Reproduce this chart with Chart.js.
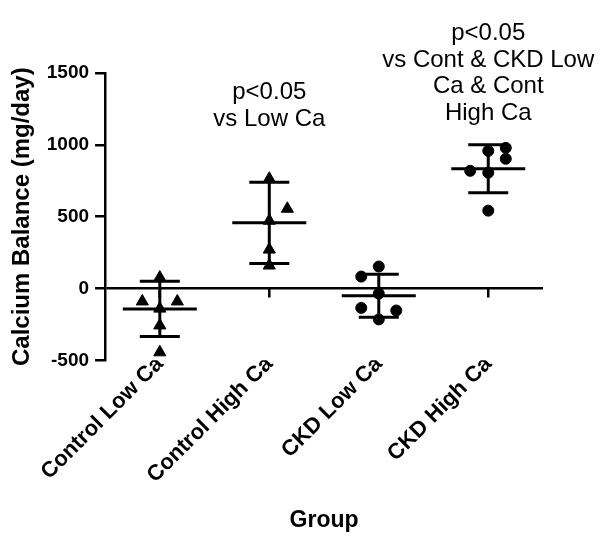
<!DOCTYPE html>
<html lang="en">
<head>
    <meta charset="UTF-8">
    <title>Calcium Balance</title>
    <style>
        body { margin: 0; background: #fff; }
        #wrap { width: 600px; height: 548px; }
    </style>
</head>
<body>
<div id="wrap">
    <canvas id="myChart"></canvas>
</div>

<script src="https://cdn.jsdelivr.net/npm/chart.js"></script>

<script>
    // groups on the x axis
    const categories = ['Control Low Ca', 'Control High Ca', 'CKD Low Ca', 'CKD High Ca'];

    // individual animals (mg/day) and their small sideways jitter (in group units)
    const controlLowCa = [76, -90, -90, -140, -257, -444];
    const controlLowJitter = [0, -0.16, 0.16, 0, 0, 0];
    const controlHighCa = [764, 555, 472, 271, 160];
    const controlHighJitter = [0, 0.165, 0, 0, 0];
    const ckdLowCa = [153, 83, -35, -135, -153, -215];
    const ckdLowJitter = [0, -0.16, 0, -0.16, 0.16, 0];
    const ckdHighCa = [958, 979, 903, 819, 806, 542];
    const ckdHighJitter = [0, 0.16, 0.16, -0.165, 0, 0];

    // mean and SD per group, as drawn
    const means = [-142, 457, -50, 833];
    const sds = [192, 283, 150, 167];

    // y axis
    const yMin = -500;
    const yMax = 1500;
    const yStep = 500;

    // significance notes
    const noteGroups = [1, 3];
    const noteValues = [1180, 1222];
    const noteLines = [
        ['p<0.05', 'vs Low Ca'],
        ['p<0.05', 'vs Cont & CKD Low', 'Ca & Cont', 'High Ca']
    ];

    const FONT = '"Liberation Sans", Arial, Helvetica, sans-serif';

    function points(values, jitter, group) {
        return values.map(function (v, i) {
            return {x: group + jitter[i], y: v};
        });
    }

    // mean line + SD whiskers
    const errorBars = {
        id: 'errorBars',
        afterDatasetsDraw(chart) {
            const ctx = chart.ctx;
            const x = chart.scales.x;
            const y = chart.scales.y;
            ctx.save();
            ctx.strokeStyle = '#000';
            ctx.lineWidth = 3;
            ctx.lineCap = 'butt';
            means.forEach(function (m, i) {
                const px = x.getPixelForValue(i);
                const pm = y.getPixelForValue(m);
                const pt = y.getPixelForValue(m + sds[i]);
                const pb = y.getPixelForValue(m - sds[i]);
                ctx.beginPath();
                ctx.moveTo(px, pt);
                ctx.lineTo(px, pb);
                ctx.moveTo(px - 37, pm);
                ctx.lineTo(px + 37, pm);
                ctx.moveTo(px - 20, pt);
                ctx.lineTo(px + 20, pt);
                ctx.moveTo(px - 20, pb);
                ctx.lineTo(px + 20, pb);
                ctx.stroke();
            });
            ctx.restore();
        }
    };

    // ticks under the zero line + notes above groups
    const extras = {
        id: 'extras',
        afterDraw(chart) {
            const ctx = chart.ctx;
            const x = chart.scales.x;
            const y = chart.scales.y;
            const p0 = y.getPixelForValue(0);
            ctx.save();
            ctx.strokeStyle = '#000';
            ctx.lineWidth = 2.5;
            categories.forEach(function (c, i) {
                const px = x.getPixelForValue(i);
                ctx.beginPath();
                ctx.moveTo(px, p0);
                ctx.lineTo(px, p0 + 9);
                ctx.stroke();
            });

            ctx.fillStyle = '#000';
            ctx.font = '24px ' + FONT;
            ctx.textAlign = 'center';
            ctx.textBaseline = 'middle';
            noteGroups.forEach(function (g, k) {
                const px = x.getPixelForValue(g);
                const py = y.getPixelForValue(noteValues[k]);
                const lines = noteLines[k];
                lines.forEach(function (t, j) {
                    ctx.fillText(t, px, py - (lines.length - 1 - j) * 26.5);
                });
            });
            ctx.restore();
        }
    };

    const ctx = document.getElementById('myChart');

    new Chart(ctx, {
        type: 'scatter',
        data: {
            datasets: [
                {
                    label: categories[0],
                    data: points(controlLowCa, controlLowJitter, 0),
                    pointStyle: 'triangle',
                    pointRadius: 7,
                    backgroundColor: '#000',
                    borderColor: '#000'
                },
                {
                    label: categories[1],
                    data: points(controlHighCa, controlHighJitter, 1),
                    pointStyle: 'triangle',
                    pointRadius: 7,
                    backgroundColor: '#000',
                    borderColor: '#000'
                },
                {
                    label: categories[2],
                    data: points(ckdLowCa, ckdLowJitter, 2),
                    pointStyle: 'circle',
                    pointRadius: 5.5,
                    backgroundColor: '#000',
                    borderColor: '#000'
                },
                {
                    label: categories[3],
                    data: points(ckdHighCa, ckdHighJitter, 3),
                    pointStyle: 'circle',
                    pointRadius: 5.5,
                    backgroundColor: '#000',
                    borderColor: '#000'
                }
            ]
        },
        options: {
            responsive: true,
            maintainAspectRatio: false,
            animation: false,
            layout: {
                padding: {top: 73, right: 57, bottom: 14, left: 8}
            },
            plugins: {
                legend: {display: false},
                tooltip: {enabled: false}
            },
            scales: {
                x: {
                    type: 'linear',
                    min: -0.5,
                    max: 3.5,
                    afterBuildTicks: function (scale) {
                        scale.ticks = categories.map(function (c, i) {
                            return {value: i};
                        });
                    },
                    ticks: {
                        autoSkip: false,
                        maxRotation: 45,
                        minRotation: 45,
                        padding: -17,
                        color: '#000',
                        font: {family: FONT, size: 22, weight: 'bold'},
                        callback: function (v) {
                            return categories[v];
                        }
                    },
                    grid: {display: false},
                    border: {display: false},
                    title: {
                        display: true,
                        text: 'Group',
                        color: '#000',
                        font: {family: FONT, size: 23, weight: 'bold'},
                        padding: {top: 35, bottom: 0}
                    }
                },
                y: {
                    min: yMin,
                    max: yMax,
                    ticks: {
                        stepSize: yStep,
                        color: '#000',
                        padding: 6,
                        font: {family: FONT, size: 19, weight: 'bold'},
                        callback: function (v) {
                            return String(v);
                        }
                    },
                    grid: {
                        color: function (c) {
                            return c.tick && c.tick.value === 0 ? '#000' : 'rgba(0,0,0,0)';
                        },
                        tickColor: '#000',
                        tickLength: 10,
                        lineWidth: 2.5
                    },
                    border: {display: true, color: '#000', width: 2.5},
                    title: {
                        display: true,
                        text: 'Calcium Balance (mg/day)',
                        color: '#000',
                        font: {family: FONT, size: 24, weight: 'bold'},
                        padding: {top: 0, bottom: 4}
                    }
                }
            }
        },
        plugins: [errorBars, extras]
    });
</script>

</body>
</html>
